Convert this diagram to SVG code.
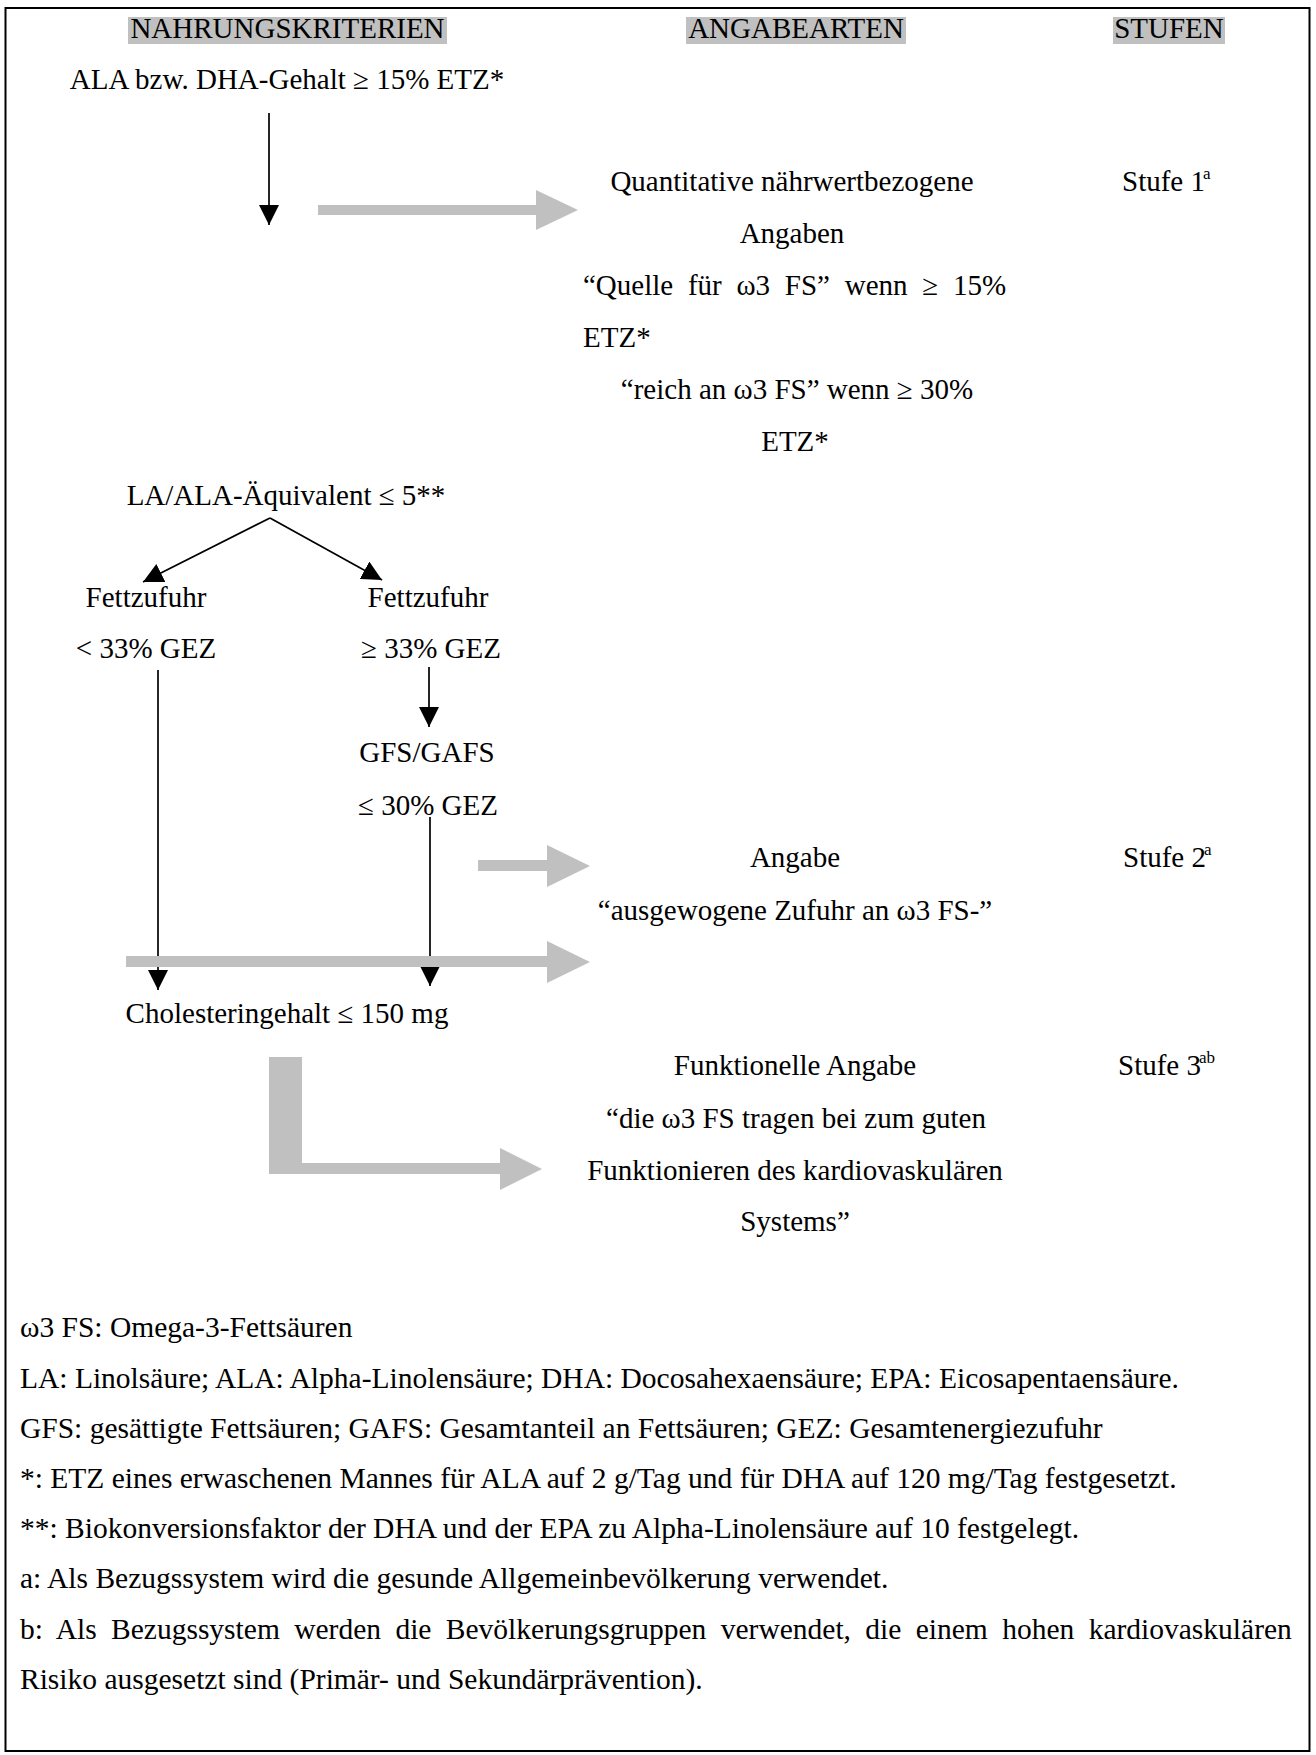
<svg xmlns="http://www.w3.org/2000/svg" width="1316" height="1755" viewBox="0 0 1316 1755">
<defs>
<style>
text{font-family:"Liberation Serif","Times New Roman",serif;font-size:29px;fill:#000}
.m{text-anchor:middle}
.sup{font-size:17px}
.fn{font-size:29.5px}
.hd{fill:#c0c0c0}
.ln{stroke:#000;stroke-width:1.7;fill:none}
.gr{fill:#c0c0c0}
</style>
<marker id="ah" markerUnits="userSpaceOnUse" markerWidth="20" markerHeight="20" refX="20" refY="10" orient="auto">
<path d="M0,0 L20,10 L0,20 z" fill="#000"/>
</marker>
</defs>
<rect x="0" y="0" width="1316" height="1755" fill="#fff"/>
<rect x="5.5" y="8" width="1304" height="1743" fill="none" stroke="#000" stroke-width="2"/>

<g id="headers">
<rect class="hd" x="128" y="17" width="319" height="27"/>
<rect class="hd" x="686" y="17" width="220" height="27"/>
<rect class="hd" x="1113" y="17" width="112" height="27"/>
<text class="m" x="287.5" y="38">NAHRUNGSKRITERIEN</text>
<text class="m" x="796" y="38">ANGABEARTEN</text>
<text class="m" x="1169" y="38">STUFEN</text>
</g>

<g id="connectors">
<line class="ln" x1="269" y1="113" x2="269" y2="225" marker-end="url(#ah)"/>
<line class="ln" x1="270" y1="518" x2="143" y2="582" marker-end="url(#ah)"/>
<line class="ln" x1="270" y1="518" x2="382" y2="580" marker-end="url(#ah)"/>
<line class="ln" x1="429" y1="667" x2="429" y2="727" marker-end="url(#ah)"/>
<line class="ln" x1="158" y1="670" x2="158" y2="990" marker-end="url(#ah)"/>
<line class="ln" x1="430" y1="817" x2="430" y2="986" marker-end="url(#ah)"/>
<g id="grey-arrows">
<rect class="gr" x="318" y="205" width="219" height="10"/>
<polygon class="gr" points="536,190 578,210 536,230"/>
<rect class="gr" x="478" y="860" width="70" height="11"/>
<polygon class="gr" points="547,845 590,866 547,887"/>
<rect class="gr" x="126" y="956" width="422" height="11"/>
<polygon class="gr" points="547,941 590,962 547,983"/>
<polygon class="gr" points="269,1057 302,1057 302,1163 501,1163 501,1174 269,1174"/>
<polygon class="gr" points="500,1148 542,1169 500,1190"/>
</g>
</g>

<g id="n-ala"><text class="m" x="287" y="89">ALA bzw. DHA-Gehalt ≥ 15% ETZ*</text></g>

<g id="n-stufe1">
<text x="1122" y="191">Stufe 1</text><text class="sup" x="1203" y="179">a</text>
</g>
<g id="n-quant">
<text class="m" x="792" y="191">Quantitative nährwertbezogene</text>
<text class="m" x="792" y="243">Angaben</text>
<text x="583" y="295" word-spacing="7.5">“Quelle für ω3 FS” wenn ≥ 15%</text>
<text x="583" y="347">ETZ*</text>
<text class="m" x="797" y="399">“reich an ω3 FS” wenn ≥ 30%</text>
<text class="m" x="795" y="451">ETZ*</text>
</g>

<g id="n-laala"><text class="m" x="286" y="505">LA/ALA-Äquivalent ≤ 5**</text></g>
<g id="n-fett1">
<text class="m" x="146" y="607">Fettzufuhr</text>
<text class="m" x="146" y="658">&lt; 33% GEZ</text>
</g>
<g id="n-fett2">
<text class="m" x="428" y="607">Fettzufuhr</text>
<text class="m" x="431" y="658">≥ 33% GEZ</text>
</g>
<g id="n-gfs">
<text class="m" x="427" y="762">GFS/GAFS</text>
<text class="m" x="428" y="815">≤ 30% GEZ</text>
</g>

<g id="n-stufe2">
<text x="1123" y="867">Stufe 2</text><text class="sup" x="1204" y="855">a</text>
</g>
<g id="n-angabe">
<text class="m" x="795" y="867">Angabe</text>
<text class="m" x="795" y="920">“ausgewogene Zufuhr an ω3 FS-”</text>
</g>

<g id="n-chol"><text class="m" x="287" y="1023">Cholesteringehalt ≤ 150 mg</text></g>

<g id="n-stufe3">
<text x="1118" y="1075">Stufe 3</text><text class="sup" x="1199" y="1063">ab</text>
</g>
<g id="n-funkt">
<text class="m" x="795" y="1075">Funktionelle Angabe</text>
<text class="m" x="796" y="1128">“die ω3 FS tragen bei zum guten</text>
<text class="m" x="795" y="1180">Funktionieren des kardiovaskulären</text>
<text class="m" x="795" y="1231">Systems”</text>
</g>

<g id="footnotes">
<text class="fn" x="20" y="1337">ω3 FS: Omega-3-Fettsäuren</text>
<text class="fn" x="20" y="1388">LA: Linolsäure; ALA: Alpha-Linolensäure; DHA: Docosahexaensäure; EPA: Eicosapentaensäure.</text>
<text class="fn" x="20" y="1438">GFS: gesättigte Fettsäuren; GAFS: Gesamtanteil an Fettsäuren; GEZ: Gesamtenergiezufuhr</text>
<text class="fn" x="20" y="1488">*: ETZ eines erwaschenen Mannes für ALA auf 2 g/Tag und für DHA auf 120 mg/Tag festgesetzt.</text>
<text class="fn" x="20" y="1538">**: Biokonversionsfaktor der DHA und der EPA zu Alpha-Linolensäure auf 10 festgelegt.</text>
<text class="fn" x="20" y="1588">a: Als Bezugssystem wird die gesunde Allgemeinbevölkerung verwendet.</text>
<text class="fn" x="20" y="1639" word-spacing="7">b: Als Bezugssystem werden die Bevölkerungsgruppen verwendet, die einem hohen kardiovaskulären</text>
<text class="fn" x="20" y="1689">Risiko ausgesetzt sind (Primär- und Sekundärprävention).</text>
</g>
</svg>
